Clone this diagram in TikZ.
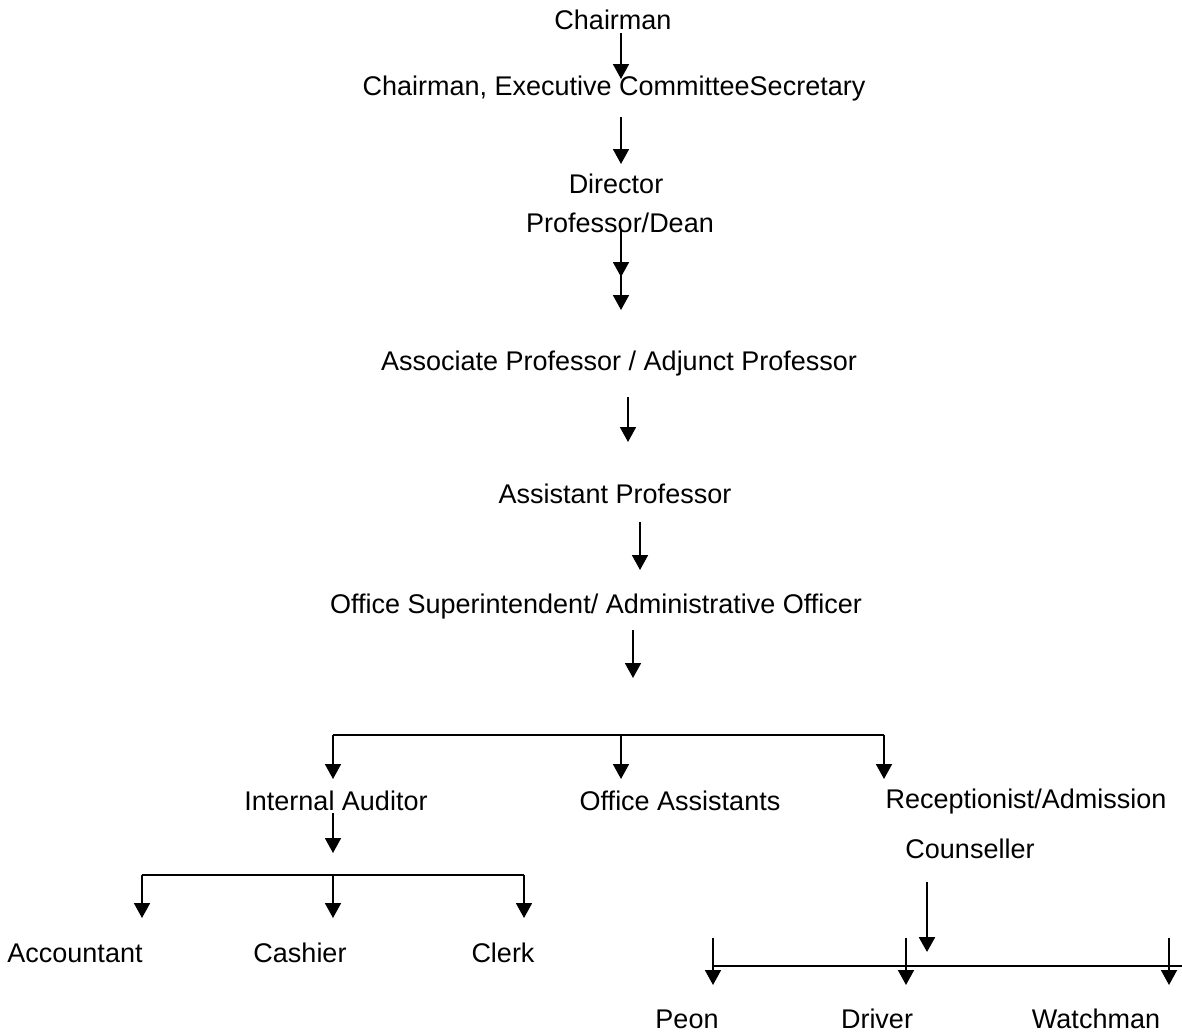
\documentclass[tikz,border=0pt]{standalone}
\usepackage{fontspec}
\setmainfont{Liberation Sans}
\usetikzlibrary{arrows.meta}

\begin{document}
\begin{tikzpicture}[x=1pt,y=-1pt,
	post/.style={font=\fontsize{27}{32}\selectfont, inner sep=0pt, anchor=base},
	link/.style={-{Triangle[width=16pt,length=15pt]}, line width=1.8pt},
	bar/.style={line width=1.8pt}]
	\useasboundingbox (0,0) rectangle (1182,1033);
	% Posts, top to bottom
	\node[post] (chair) at (613,30) {Chairman};
	\node[post] (exec) at (614,95) {Chairman, Executive CommitteeSecretary};
	\node[post] (dir) at (616,193) {Director};
	\node[post] (dean) at (620,232) {Professor/Dean};
	\node[post] (assoc) at (619,370) {Associate Professor / Adjunct Professor};
	\node[post] (asst) at (615,503) {Assistant Professor};
	\node[post] (super) at (596,613) {Office Superintendent/ Administrative Officer};
	\node[post] (audit) at (336,810) {Internal Auditor};
	\node[post] (offa) at (680,810) {Office Assistants};
	\node[post] (recep) at (1026,808) {Receptionist/Admission};
	\node[post] (couns) at (970,858) {Counseller};
	\node[post] (acct) at (75,962) {Accountant};
	\node[post] (cash) at (300,962) {Cashier};
	\node[post] (clerk) at (503,962) {Clerk};
	\node[post] (peon) at (687,1028) {Peon};
	\node[post] (driver) at (877,1028) {Driver};
	\node[post] (watch) at (1096,1028) {Watchman};
	% Down arrows
	\foreach \n/\x/\ya/\yb in {1/621/33/79, 2/621/117/164, 3/621/230/277, 4/621/262/310,
		5/628/397/442, 6/640/522/570, 7/633/630/678,
		8/333/735/779, 9/621/735/779, 10/884/735/779, 11/333/813/853,
		12/142/875/918, 13/333/875/918, 14/524/875/918,
		15/713/938/985, 16/906/938/985, 17/1169/938/985}{
		\coordinate (s\n) at (\x,\ya);
		\coordinate (e\n) at (\x,\yb);
		\draw[link] (s\n) -- (e\n);}
	\coordinate (s18) at (927,882);
	\coordinate (e18) at (927,952);
	\draw[link, line width=2.6pt] (s18) -- (e18);
	% Bars
	\coordinate (b1l) at (333,735); \coordinate (b1r) at (884,735);
	\coordinate (b2l) at (142,875); \coordinate (b2r) at (524,875);
	\coordinate (b3l) at (713,966); \coordinate (b3r) at (1182,966);
	\draw[bar] (b1l) -- (b1r);
	\draw[bar] (b2l) -- (b2r);
	\draw[bar] (b3l) -- (b3r);
\end{tikzpicture}
\end{document}
